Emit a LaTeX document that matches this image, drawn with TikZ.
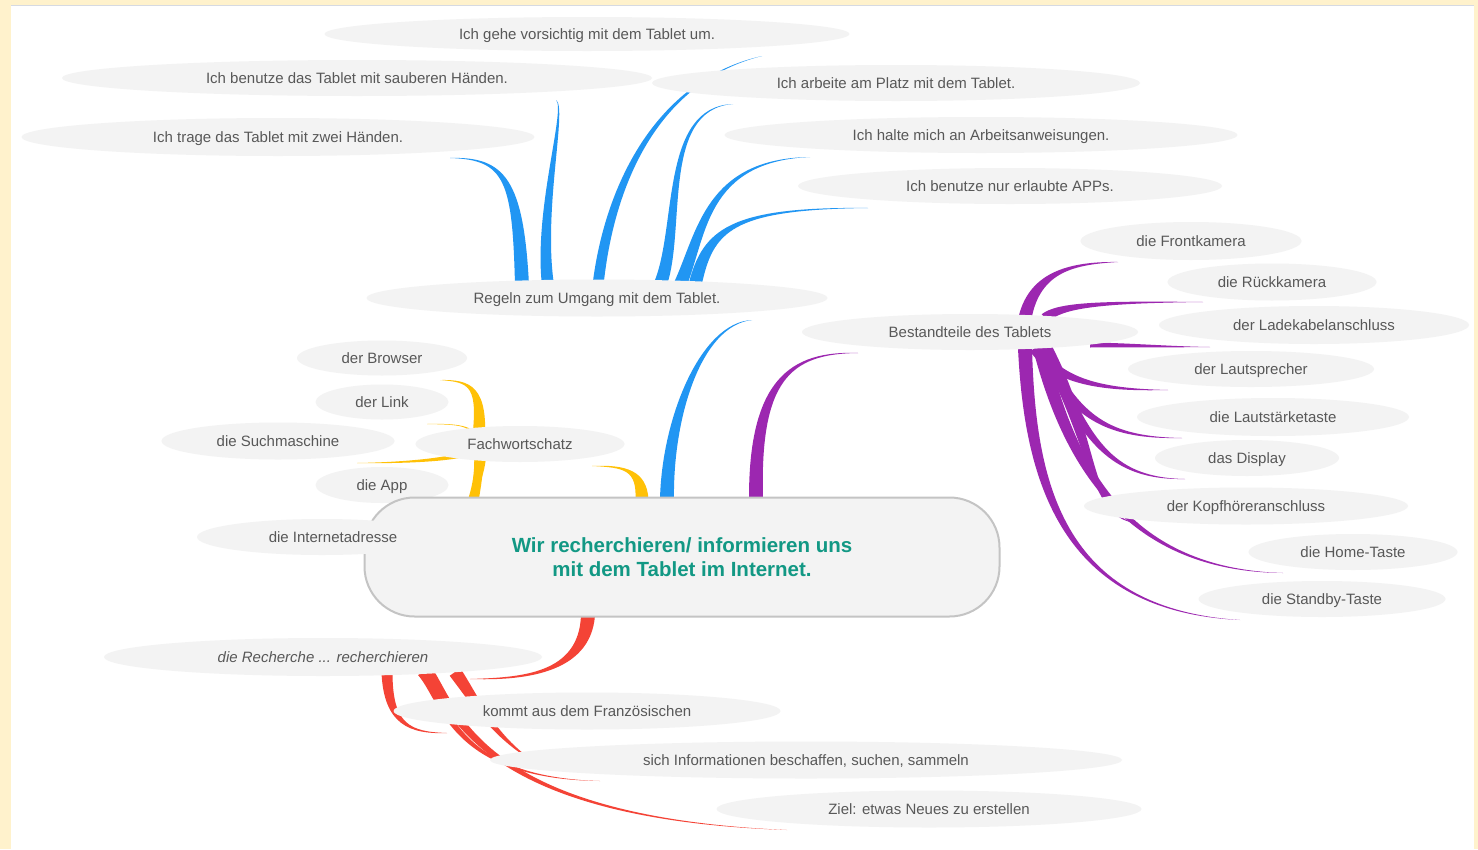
\documentclass[tikz,border=0pt]{standalone}
\usepackage{fontspec}
\setmainfont{Liberation Sans}
\usetikzlibrary{calc,shapes.geometric}
\pgfdeclarelayer{back}
\pgfdeclarelayer{bg}
\pgfsetlayers{back,bg,main}
\definecolor{bgyellow}{RGB}{255,242,204}
\definecolor{topline}{RGB}{214,218,226}
\definecolor{bubble}{RGB}{243,243,243}
\definecolor{txt}{RGB}{88,88,88}
\definecolor{teal}{RGB}{18,152,132}
\definecolor{mainborder}{RGB}{196,196,196}
\definecolor{blueB}{RGB}{33,150,243}
\definecolor{purpleB}{RGB}{156,39,176}
\definecolor{yellowB}{RGB}{255,193,7}
\definecolor{redB}{RGB}{244,67,54}
% tapered branch: colour, root width, start, control 1, control 2, end
\newcommand{\tbranch}[6]{%
  \fill[#1] ($(#3)!#2*0.5pt!90:(#4)$)
    .. controls ($(#4)!#2*0.4pt!-90:(#3)$) and ($(#5)!#2*0.12pt!90:(#6)$) .. (#6)
    .. controls ($(#5)!#2*0.12pt!-90:(#6)$) and ($(#4)!#2*0.4pt!90:(#3)$) .. ($(#3)!#2*0.5pt!-90:(#4)$) -- cycle;}
\begin{document}
\begin{tikzpicture}[x=1pt,y=-1pt,
  bub/.style={ellipse, fill=bubble, inner sep=0pt, text=txt, text depth=0pt, font=\fontsize{15}{18}\selectfont},
  mainnode/.style={rectangle, rounded corners=50pt, fill=bubble, draw=mainborder, line width=2pt,
    text=teal, align=center, font=\fontsize{20.5}{24}\selectfont\bfseries}]
\begin{pgfonlayer}{back}
  \fill[bgyellow] (0,0) rectangle (1478,849);
  \fill[white] (11,5) rectangle (1474,849);
  \draw[topline, line width=1pt] (11,5.5) -- (1474,5.5);
\end{pgfonlayer}
\useasboundingbox (0,0) rectangle (1478,849);

% ---- nodes ----
\node[bub, minimum width=525pt, minimum height=34pt] (n1) at (587,34) {Ich gehe vorsichtig mit dem Tablet um.};
\node[bub, minimum width=590pt, minimum height=36pt] (n2) at (357,78) {Ich benutze das Tablet mit sauberen Händen.};
\node[bub, minimum width=513pt, minimum height=38pt] (n3) at (278,137) {Ich trage das Tablet mit zwei Händen.};
\node[bub, minimum width=488pt, minimum height=36pt] (n4) at (896,83) {Ich arbeite am Platz mit dem Tablet.};
\node[bub, minimum width=513pt, minimum height=36pt] (n5) at (981,135) {Ich halte mich an Arbeitsanweisungen.};
\node[bub, minimum width=424pt, minimum height=36pt] (n6) at (1010,186) {Ich benutze nur erlaubte APPs.};
\node[bub, minimum width=461pt, minimum height=37pt] (regeln) at (597,298) {Regeln zum Umgang mit dem Tablet.};

\node[bub, minimum width=336pt, minimum height=36pt] (best) at (970,332) {Bestandteile des Tablets};
\node[bub, minimum width=221pt, minimum height=38pt] (front) at (1191,241) {die Frontkamera};
\node[bub, minimum width=209pt, minimum height=37pt] (rueck) at (1272,282) {die Rückkamera};
\node[bub, minimum width=310pt, minimum height=38pt] (lade) at (1314,325) {der Ladekabelanschluss};
\node[bub, minimum width=246pt, minimum height=36pt] (lautsp) at (1251,369) {der Lautsprecher};
\node[bub, minimum width=272pt, minimum height=38pt] (lautst) at (1273,417) {die Lautstärketaste};
\node[bub, minimum width=184pt, minimum height=36pt] (display) at (1247,458) {das Display};
\node[bub, minimum width=324pt, minimum height=37pt] (kopf) at (1246,506) {der Kopfhöreranschluss};
\node[bub, minimum width=209pt, minimum height=36pt] (home) at (1353,552) {die Home-Taste};
\node[bub, minimum width=247pt, minimum height=36pt] (standby) at (1322,599) {die Standby-Taste};

\node[bub, minimum width=170pt, minimum height=35pt] (browser) at (382,358) {der Browser};
\node[bub, minimum width=133pt, minimum height=35pt] (link) at (382,402) {der Link};
\node[bub, minimum width=233pt, minimum height=37pt] (such) at (278,441) {die Suchmaschine};
\node[bub, minimum width=209pt, minimum height=36pt] (fach) at (520,444) {Fachwortschatz};
\node[bub, minimum width=133pt, minimum height=36pt] (app) at (382,485) {die App};

\node[bub, minimum width=438pt, minimum height=38pt] (rech) at (323,657) {\itshape die Recherche ... recherchieren};
\node[bub, minimum width=387pt, minimum height=37pt] (kommt) at (587,711) {kommt aus dem Französischen};
\node[bub, minimum width=632pt, minimum height=37pt] (sich) at (806,760) {sich Informationen beschaffen, suchen, sammeln};
\node[bub, minimum width=425pt, minimum height=37pt] (ziel) at (929,809) {Ziel: etwas Neues zu erstellen};

\node[mainnode, minimum width=635pt, minimum height=119pt] (main) at (682,557)
  {Wir recherchieren/ informieren uns\\mit dem Tablet im Internet.};
\node[bub, minimum width=250pt, minimum height=36pt] (internet) at (322,537) {\hspace*{22pt}die Internetadresse};

% ---- branches ----
\begin{pgfonlayer}{bg}
% blue
\tbranch{blueB}{14}{[shift={(-15,-57)}]main.center}{667,420}{700,324}{[shift={(155,22)}]regeln.center}
\tbranch{blueB}{14}{[shift={(-75,-13)}]regeln.center}{518,180}{505,158}{[shift={(172,21)}]n3.center}
\tbranch{blueB}{12}{[shift={(-49,-13)}]regeln.center}{538,210}{567,108}{[shift={(199,22)}]n2.center}
\tbranch{blueB}{11}{[shift={(1,-13)}]regeln.center}{610,180}{660,80}{[shift={(175,22)}]n1.center}
\tbranch{blueB}{13}{[shift={(63,-13)}]regeln.center}{682,230}{660,108}{[shift={(-163,21)}]n4.center}
\tbranch{blueB}{13}{[shift={(83,-13)}]regeln.center}{702,235}{705,160}{[shift={(-171,22)}]n5.center}
\tbranch{blueB}{13}{[shift={(98,-13)}]regeln.center}{708,230}{730,208}{[shift={(-142,22)}]n6.center}
% purple
\tbranch{purpleB}{14}{[shift={(74,-57)}]main.center}{754,380}{790,352}{[shift={(-112,21)}]best.center}
\tbranch{purpleB}{13}{[shift={(55,-14)}]best.center}{1035,270}{1075,263}{[shift={(-73,21)}]front.center}
\tbranch{purpleB}{10}{[shift={(75,-14)}]best.center}{1060,305}{1100,302}{[shift={(-69,20)}]rueck.center}
\tbranch{purpleB}{5}{[shift={(120,13)}]best.center}{1130,345}{1170,347}{[shift={(-104,22)}]lade.center}
\tbranch{purpleB}{12}{[shift={(65,16)}]best.center}{1060,385}{1110,390}{[shift={(-83,21)}]lautsp.center}
\tbranch{purpleB}{12}{[shift={(70,16)}]best.center}{1075,420}{1110,438}{[shift={(-91,21)}]lautst.center}
\tbranch{purpleB}{12}{[shift={(75,16)}]best.center}{1085,440}{1110,479}{[shift={(-62,21)}]display.center}
\tbranch{purpleB}{14}{[shift={(75,16)}]best.center}{1095,440}{1090,520}{[shift={(-108,17)}]kopf.center}
\tbranch{purpleB}{14}{[shift={(70,16)}]best.center}{1070,470}{1130,570}{[shift={(-70,21)}]home.center}
\tbranch{purpleB}{14}{[shift={(55,16)}]best.center}{1030,480}{1060,610}{[shift={(-82,21)}]standby.center}
% yellow
\tbranch{yellowB}{13}{[shift={(-40,-57)}]main.center}{642,470}{625,466}{[shift={(72,22)}]fach.center}
\tbranch{yellowB}{13}{[shift={(-42,1)}]fach.center}{484,385}{470,381}{[shift={(58,22)}]browser.center}
\tbranch{yellowB}{6}{[shift={(-45,1)}]fach.center}{478,425}{460,424}{[shift={(45,22)}]link.center}
\tbranch{yellowB}{6}{[shift={(-45,6)}]fach.center}{460,460}{400,463}{[shift={(79,22)}]such.center}
\tbranch{yellowB}{13}{[shift={(-40,1)}]fach.center}{482,480}{470,500}{[shift={(78,35)}]app.center}
\tbranch{yellowB}{10}{[shift={(-40,1)}]fach.center}{478,500}{470,530}{[shift={(148,3)}]internet.center}
% red
\tbranch{redB}{14}{[shift={(-94,58)}]main.center}{585,675}{520,679}{[shift={(147,22)}]rech.center}
\tbranch{redB}{11}{[shift={(64,15)}]rech.center}{388,725}{410,733}{[shift={(-140,22)}]kommt.center}
\tbranch{redB}{10}{[shift={(99,15)}]rech.center}{445,700}{450,778}{[shift={(-206,21)}]sich.center}
\tbranch{redB}{11}{[shift={(105,15)}]rech.center}{455,710}{480,818}{[shift={(-142,21)}]ziel.center}
\tbranch{redB}{13}{[shift={(132,15)}]rech.center}{475,700}{495,740}{[shift={(-266,5)}]sich.center}
\end{pgfonlayer}
\end{tikzpicture}
\end{document}
